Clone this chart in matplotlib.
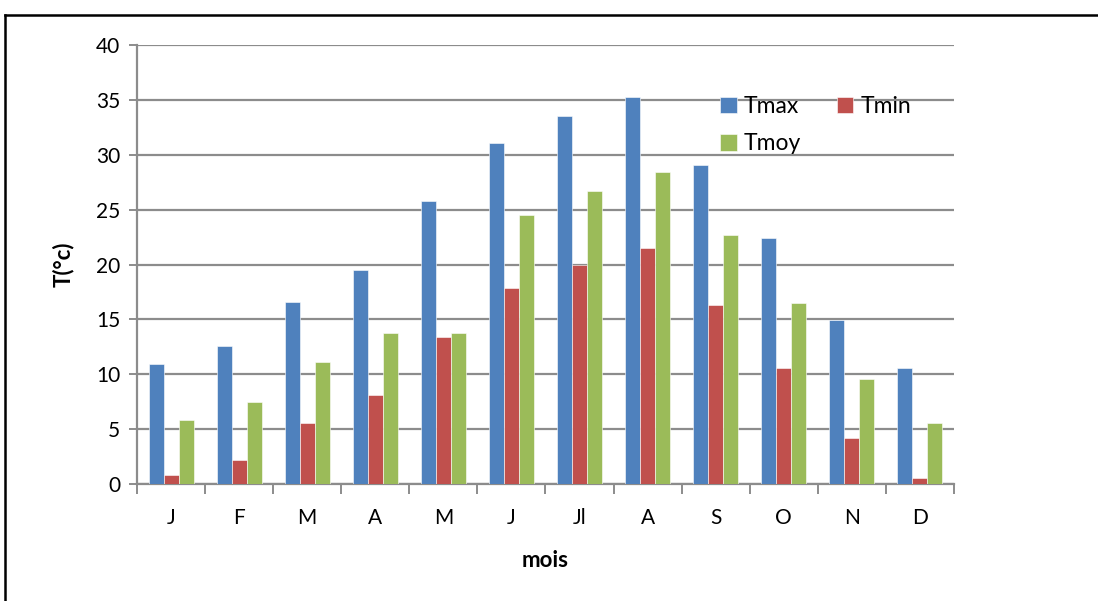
import matplotlib
matplotlib.use("Agg")
import matplotlib.pyplot as plt
import numpy as np
from matplotlib.lines import Line2D

months = ["J", "F", "M", "A", "M", "J", "Jl", "A", "S", "O", "N", "D"]
tmax = [10.9, 12.6, 16.6, 19.5, 25.8, 31.1, 33.5, 35.3, 29.1, 22.4, 14.9, 10.6]
tmin = [0.8, 2.2, 5.6, 8.1, 13.4, 17.9, 20.0, 21.5, 16.3, 10.6, 4.2, 0.5]
tmoy = [5.8, 7.5, 11.1, 13.8, 13.8, 24.5, 26.7, 28.4, 22.7, 16.5, 9.6, 5.6]
series_names = ["Tmax", "Tmin", "Tmoy"]
colors = ["#4F81BD", "#C0504D", "#9BBB59"]

plt.rcParams["font.family"] = ["Lato", "DejaVu Sans"]

W, H = 1098, 601
fig = plt.figure(figsize=(W / 100, H / 100), dpi=100)
ax = fig.add_axes([0.1248, 0.1947, 0.744, 0.7303])

x = np.arange(len(months))
w = 0.22
grid_c = "#8C8C8C"
bars = []
for i, (vals, name, c) in enumerate(zip([tmax, tmin, tmoy], series_names, colors)):
    b = ax.bar(x + (i - 1) * w, vals, width=w, color=c, label=name,
               edgecolor="white", linewidth=0.4, zorder=3)
    bars.append(b)

ax.set_xlim(-0.5, len(months) - 0.5)
ax.set_ylim(0, 40)
ax.set_yticks(np.arange(0, 41, 5))
ax.yaxis.grid(True, color=grid_c, linewidth=1.6, zorder=0)
ax.set_axisbelow(True)

ax.set_xticks(x)
ax.set_xticklabels(months)
ax.set_xticks(np.arange(-0.5, len(months), 1.0), minor=True)
ax.tick_params(axis="x", which="major", length=0, pad=17, labelsize=15)
ax.tick_params(axis="x", which="minor", length=7, width=1.4, color=grid_c, direction="out")
ax.tick_params(axis="y", length=6, width=1.4, color=grid_c, labelsize=15, pad=6)

for s in ["top", "right"]:
    ax.spines[s].set_visible(False)
for s in ["left", "bottom"]:
    ax.spines[s].set_color(grid_c)
    ax.spines[s].set_linewidth(1.6)

ax.set_ylabel("T(°c)", fontsize=16, fontweight="bold", labelpad=16)
ax.set_xlabel("mois", fontsize=16, fontweight="bold", labelpad=16)

# row-major legend: Tmax, Tmin on the first row, Tmoy below
order = [0, 2, 1]
ax.legend([bars[k] for k in order], [series_names[k] for k in order],
          loc="upper left", bbox_to_anchor=(709 / W, 1 - 85 / H),
          bbox_transform=fig.transFigure, ncol=2, frameon=False,
          fontsize=16.5, handlelength=0.7, handleheight=0.7, handletextpad=0.3,
          columnspacing=1.6, labelspacing=0.7, borderpad=0)

# outer frame
fig.add_artist(Line2D([5 / W, 5 / W], [0, 1 - 15 / H], color="black", linewidth=1.8))
fig.add_artist(Line2D([5 / W, 1], [1 - 15 / H, 1 - 15 / H], color="black", linewidth=1.8))

fig.savefig("out.png", dpi=100)
